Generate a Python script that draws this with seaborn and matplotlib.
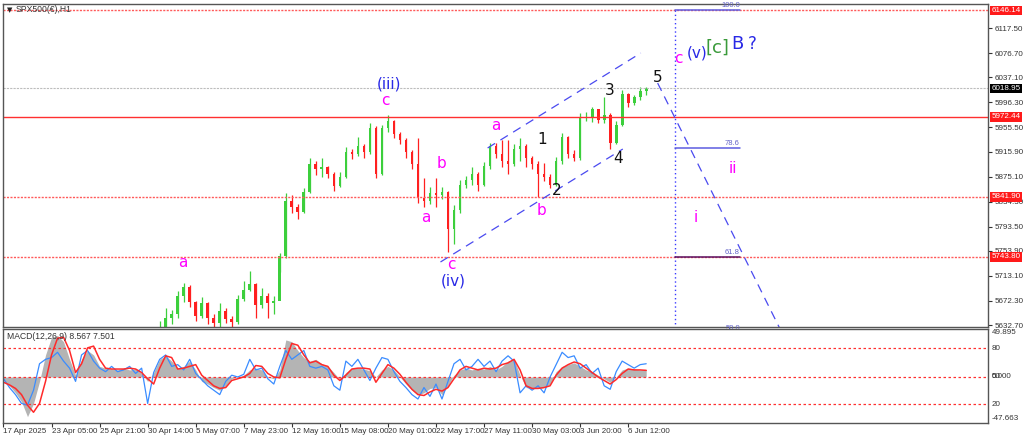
import numpy as np
import pandas as pd
import seaborn as sns
import matplotlib.pyplot as plt

sns.set_style('white')
plt.rcParams['font.family'] = ['DejaVu Sans']
SMALL = ['Liberation Sans', 'DejaVu Sans']

# --- H1 candles (close / high / low) ---
closes = [5290, 5270, 5240, 5200, 5150, 5140, 5210, 5300, 5380, 5420,
          5445, 5430, 5460, 5500, 5520, 5510, 5530, 5550, 5545, 5525,
          5540, 5560, 5545, 5500, 5530, 5585, 5630, 5645, 5650, 5680,
          5695, 5670, 5648, 5668, 5645, 5636, 5655, 5642, 5638, 5676,
          5690, 5700, 5665, 5680, 5668, 5672, 5745, 5835, 5825, 5818,
          5850, 5895, 5888, 5890, 5880, 5860, 5875, 5915, 5912, 5925,
          5915, 5955, 5880, 5955, 5965, 5945, 5935, 5915, 5895, 5840,
          5835, 5848, 5845, 5850, 5790, 5820, 5862, 5870, 5880, 5862,
          5892, 5925, 5912, 5900, 5895, 5920, 5925, 5905, 5895, 5880,
          5875, 5862, 5900, 5940, 5912, 5905, 5970, 5972, 5985, 5968,
          5975, 5930, 5960, 6010, 5995, 6005, 6015, 6018.95]
highs = [5310, 5295, 5275, 5245, 5205, 5165, 5220, 5315, 5395, 5440,
         5460, 5455, 5470, 5510, 5530, 5528, 5540, 5560, 5558, 5550,
         5552, 5570, 5565, 5550, 5540, 5600, 5640, 5660, 5657, 5688,
         5702, 5698, 5672, 5678, 5670, 5650, 5668, 5660, 5648, 5682,
         5705, 5721, 5702, 5693, 5685, 5680, 5750, 5848, 5845, 5830,
         5856, 5905, 5900, 5905, 5892, 5882, 5882, 5923, 5920, 5940,
         5928, 5962, 5958, 5960, 5976, 5968, 5948, 5938, 5918, 5938,
         5872, 5858, 5872, 5858, 5852, 5828, 5870, 5876, 5890, 5882,
         5898, 5930, 5930, 5934, 5935, 5928, 5938, 5928, 5908, 5900,
         5897, 5880, 5907, 5946, 5942, 5918, 5979, 5980, 5988, 5986,
         6005, 5978, 5966, 6016, 6012, 6008, 6021, 6022]
lows = [5270, 5255, 5230, 5185, 5120, 5110, 5135, 5205, 5290, 5370,
        5410, 5415, 5420, 5455, 5495, 5495, 5505, 5525, 5530, 5515,
        5520, 5535, 5530, 5480, 5490, 5525, 5580, 5620, 5635, 5645,
        5670, 5662, 5640, 5645, 5635, 5625, 5630, 5636, 5628, 5635,
        5672, 5688, 5645, 5660, 5645, 5650, 5720, 5742, 5815, 5806,
        5815, 5848, 5878, 5874, 5872, 5852, 5858, 5872, 5904, 5908,
        5906, 5912, 5872, 5878, 5948, 5938, 5928, 5905, 5888, 5832,
        5825, 5830, 5826, 5838, 5752, 5765, 5815, 5856, 5862, 5852,
        5860, 5888, 5905, 5890, 5880, 5892, 5900, 5890, 5888, 5841,
        5868, 5856, 5860, 5896, 5905, 5900, 5902, 5965, 5964, 5962,
        5962, 5920, 5928, 5958, 5988, 5992, 6000, 6008]

# --- MACD panel ---
macd_hist = [-4, -10, -18, -28, -45, -30, -5, 25, 45, 47,
             40, 20, 2, 20, 30, 25, 12, 10, 9, 8,
             10, 8, 9, 4, -5, 5, 20, 24, 18, 10,
             12, 18, 8, -5, -8, -12, -15, -10, -2, 0,
             2, 8, 10, 8, 0, -2, 8, 42, 40, 30,
             22, 18, 20, 15, 12, 5, -3, 5, 10, 10,
             9, 7, 0, 8, 12, 8, 0, -8, -15, -20,
             -18, -13, -12, -20, -10, 2, 8, 10, 8, 10,
             9, 12, 8, 12, 18, 20, 2, -12, -13, -13,
             -12, -8, 6, 12, 14, 16, 12, 8, 6, 2,
             -2, -6, 0, 8, 10, 9, 8, 8.567]
macd_signal = [-6, -9, -13, -20, -32, -40, -30, -5, 25, 44,
               45, 30, 5, 15, 33, 35, 20, 10, 9, 9,
               9, 10, 9, 5, -2, -8, 10, 24, 22, 9,
               10, 12, 14, 2, -4, -10, -13, -12, -4, -2,
               0, 4, 13, 12, 4, 0, -1, 20, 38, 36,
               25, 16, 18, 14, 12, 2, -4, 2, 9, 10,
               10, 9, -6, 4, 14, 10, 3, -6, -14, -20,
               -21, -17, -14, -16, -12, -2, 8, 12, 10, 8,
               10, 9, 10, 14, 16, 20, 8, -10, -13, -13,
               -12, -10, 2, 10, 14, 17, 15, 10, 5, 0,
               -4, -8, -3, 4, 9, 8, 8, 7.501]
macd_fast = [-2, -12, -20, -30, -32, -15, 15, 20, 22, 28,
             18, 10, -5, 25, 30, 18, 10, 6, 12, 6,
             8, 12, 4, 10, -30, 5, 20, 25, 12, 14,
             8, 20, 4, -3, -10, -15, -20, -5, 2, 0,
             3, 20, 8, 10, -2, -8, 12, 30, 20, 25,
             30, 12, 10, 12, 8, -10, -15, 18, 12, 20,
             8, -4, 10, 22, 20, 6, -5, -12, -20, -25,
             -12, -22, -8, -25, -5, 15, 20, 8, 12, 20,
             12, 18, 6, 18, 24, 18, -18, -10, -15, -10,
             -18, 0, 14, 28, 22, 24, 10, 14, 4, 10,
             -10, -14, 6, 18, 14, 10, 14, 15]

x_labels = ['17 Apr 2025', '23 Apr 05:00', '25 Apr 21:00', '30 Apr 14:00',
            '5 May 07:00', '7 May 23:00', '12 May 16:00', '15 May 08:00',
            '20 May 01:00', '22 May 17:00', '27 May 11:00', '30 May 03:00',
            '3 Jun 20:00', '6 Jun 12:00']
price_ticks = [6117.50, 6076.70, 6037.10, 5996.30, 5955.50, 5915.90, 5875.10,
               5834.30, 5793.50, 5753.90, 5713.10, 5672.30, 5632.70]
red_levels = [6146.14, 5972.44, 5841.90, 5743.80]
last_price = 6018.95

# fibonacci retracement (level name, price)
fib_names = ['100.0', '78.6', '61.8', '50.0']
fib_prices = [6146.14, 5921.7, 5743.8, 5619.6]
fib_start, fib_end = 111.75, 122.6

# trend lines (bar, price)
channel_upper = [(80.6, 5921.7), (106.1, 6076.7)]
channel_lower = [(72.75, 5735.6), (103.1, 5920.0)]
drop_line = [(108.9, 6027.7), (129.6, 5620.0)]

# wave labels: text, bar, price, colour, size
MAG, BLU, GRN, BLK = '#ff00ff', '#2828e6', '#3a9a3a', '#111111'
wave_labels = [
    ('a', 29.9, 5735, MAG, 11), ('c', 63.6, 6000, MAG, 11),
    ('(iii)', 64.25, 6026, BLU, 11), ('b', 72.9, 5897, MAG, 11),
    ('a', 70.25, 5809, MAG, 11), ('c', 74.6, 5731, MAG, 11),
    ('(iv)', 74.9, 5704, BLU, 11), ('a', 81.9, 5959, MAG, 11),
    ('1', 89.6, 5935, BLK, 11), ('b', 89.6, 5820, MAG, 11),
    ('2', 92.1, 5853, BLK, 11), ('3', 100.9, 6016, BLK, 11),
    ('4', 102.25, 5904, BLK, 11), ('5', 108.9, 6037, BLK, 11),
    ('c', 112.4, 6068, MAG, 11), ('(v)', 115.4, 6077, BLU, 11),
    ('[c]', 118.9, 6086, GRN, 13), ('B', 122.1, 6092, BLU, 13),
    ('?', 124.6, 6092, BLU, 12), ('ii', 121.4, 5889, MAG, 11),
    ('i', 115.25, 5809, MAG, 11),
]

df = pd.DataFrame({'bar': np.arange(len(closes)), 'close': closes,
                   'high': highs, 'low': lows})
df['open'] = df['close'].shift(1).fillna(df['close'] + 10)
up = df['close'] >= df['open']
col = np.where(up, '#3ccf3c', '#ff1f1f')

fig = plt.figure(figsize=(10.24, 4.41), dpi=100)
W, H = 1024, 441
ax = fig.add_axes([3 / W, (H - 327) / H, 985 / W, 323 / H])
ax2 = fig.add_axes([3 / W, (H - 423) / H, 985 / W, 94 / H])

# price panel
ax.vlines(df['bar'], df['low'], df['high'], colors=col, lw=0.9)
ax.bar(df['bar'], (df['close'] - df['open']).abs().clip(lower=1.5),
       bottom=df[['open', 'close']].min(axis=1), width=0.45, color=col, lw=0)

for lv in red_levels:
    if lv == 5972.44:
        ax.axhline(lv, color='#ff3030', lw=1.0)
    else:
        ax.axhline(lv, color='#ff5a5a', lw=1.0, ls=(0, (1.5, 1)))
ax.axhline(last_price, color='#bdbdbd', lw=0.8, ls=(0, (2, 1)))

for (x0, y0), (x1, y1) in [channel_upper, channel_lower, drop_line]:
    ax.plot([x0, x1], [y0, y1], color='#4a4af0', lw=0.9, ls=(0, (7, 5)))

ax.plot([fib_start, fib_start], [fib_prices[0], 5600], color='#3a3aff',
        lw=1.0, ls=(0, (1, 2)))
for name, p in zip(fib_names, fib_prices):
    c = '#5a1060' if name == '61.8' else '#5c5ce0'
    ax.plot([fib_start, fib_end], [p, p], color=c, lw=1.1)
    ax.text(fib_end, p + 2, name, fontsize=5.5, color='#6464c8', family=SMALL,
            ha='right', va='bottom', clip_on=False)

for s, bx, p, c, fs in wave_labels:
    ax.text(bx, p, s, color=c, fontsize=fs, ha='center', va='center')

ax.set_xlim(-0.08, 163.9)
ax.set_ylim(5629.5, 6156.7)
ax.set_xticks([])
ax.yaxis.tick_right()
ax.set_yticks(price_ticks)
ax.set_yticklabels([f'{v:.2f}' for v in price_ticks], family=SMALL)
ax.tick_params(axis='y', labelsize=5.8, length=3, pad=2, colors='#333333',
               right=True, direction='out')

trans = ax.get_yaxis_transform()
for lv in red_levels:
    ax.text(1.0035, lv, f'{lv:.2f}', transform=trans, fontsize=5.8, color='white',
            ha='left', va='center', clip_on=False, family=SMALL,
            bbox=dict(boxstyle='square,pad=0.15', fc='#ff1a1a', ec='none'))
ax.text(1.0035, last_price, f'{last_price:.2f}', transform=trans, fontsize=5.8,
        color='white', ha='left', va='center', clip_on=False, family=SMALL,
        bbox=dict(boxstyle='square,pad=0.15', fc='#000000', ec='none'))
ax.text(0.004, 0.982, '\u25bc', transform=ax.transAxes, fontsize=5,
        color='#222222', va='center')
ax.text(0.013, 0.982, 'SPX500(\u20ac),H1', transform=ax.transAxes,
        fontsize=6.2, color='#333333', va='center', family=SMALL)

# MACD panel
bars = df['bar']
ax2.fill_between(bars, 0, macd_hist, color='#b4b4b4', lw=0)
for lv in [32.3, 0, -31.2]:
    ax2.axhline(lv, color='#ff3030', lw=0.9, ls=(0, (2, 2)))
sns.lineplot(x=bars, y=macd_fast, ax=ax2, color='#3a8cff', lw=0.9)
sns.lineplot(x=bars, y=macd_signal, ax=ax2, color='#ff2a2a', lw=1.1)
ax2.set_xlim(-0.08, 163.9)
ax2.set_ylim(-52.2, 54.4)
ax2.set_xlabel('')
ax2.set_ylabel('')
ax2.set_yticks([])
ax2.set_xticks(np.arange(len(x_labels)) * 8)
ax2.set_xticklabels(x_labels, family=SMALL)
ax2.tick_params(axis='x', labelsize=5.8, length=3, pad=0.5, colors='#333333',
                bottom=True, direction='out')
for t in ax2.get_xticklabels():
    t.set_ha('left')
ax2.text(0.004, 0.925, 'MACD(12,26,9) 8.567 7.501', transform=ax2.transAxes,
         fontsize=6.2, color='#333333', va='center', family=SMALL)
trans2 = ax2.get_yaxis_transform()
for v, s in [(49.9, '49.895'), (32.3, '80'), (0, '50'), (0, '0.000'),
             (-31.2, '20'), (-47.6, '-47.663')]:
    ax2.text(1.004, v, s, transform=trans2, fontsize=5.8, color='#333333',
             ha='left', va='center', clip_on=False, family=SMALL)

for a in (ax, ax2):
    for sp in a.spines.values():
        sp.set_color('#555555')
        sp.set_linewidth(1.0)

fig.savefig('out.png', dpi=100)
